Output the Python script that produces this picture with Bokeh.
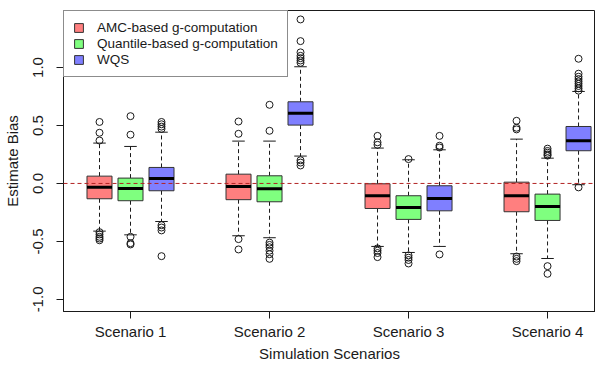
from bokeh.plotting import figure
from bokeh.models import ColumnDataSource, FixedTicker, Span, Legend, LegendItem, PrintfTickFormatter
from bokeh.embed import file_html
from bokeh.resources import INLINE

scenarios = ["Scenario 1", "Scenario 2", "Scenario 3", "Scenario 4"]
methods = ["AMC-based g-computation", "Quantile-based g-computation", "WQS"]
colors = ["#FF7F7F", "#7FFF7F", "#7F7FFF"]

# box statistics per scenario
amc_q1 = [-0.132, -0.140, -0.216, -0.244]
amc_med = [-0.032, -0.026, -0.106, -0.106]
amc_q3 = [0.063, 0.080, -0.003, 0.011]
amc_lo = [-0.411, -0.451, -0.543, -0.606]
amc_hi = [0.348, 0.365, 0.305, 0.382]
amc_out = [[0.53, 0.437, 0.37, -0.42, -0.44, -0.46, -0.475, -0.49],
           [0.534, 0.428, -0.48, -0.569],
           [0.41, 0.355, 0.333, -0.56, -0.58, -0.60, -0.635],
           [0.54, 0.48, 0.466, -0.63, -0.65, -0.67]]

qg_q1 = [-0.149, -0.158, -0.310, -0.319]
qg_med = [-0.043, -0.046, -0.207, -0.198]
qg_q3 = [0.046, 0.066, -0.106, -0.092]
qg_lo = [-0.443, -0.468, -0.595, -0.647]
qg_hi = [0.319, 0.365, 0.204, 0.218]
qg_out = [[0.58, 0.42, -0.46, -0.515, -0.526],
          [0.678, 0.454, -0.51, -0.53, -0.55, -0.58, -0.61, -0.65],
          [0.21, -0.62, -0.64, -0.66, -0.69],
          [0.30, 0.28, 0.265, 0.25, 0.24, -0.713, -0.779]]

wqs_q1 = [-0.063, 0.503, -0.236, 0.282]
wqs_med = [0.043, 0.606, -0.129, 0.368]
wqs_q3 = [0.138, 0.704, -0.020, 0.491]
wqs_lo = [-0.328, 0.236, -0.543, -0.011]
wqs_hi = [0.442, 1.006, 0.290, 0.793]
wqs_out = [[0.53, 0.51, 0.49, 0.47, -0.36, -0.38, -0.405, -0.627],
           [1.414, 1.227, 1.13, 1.10, 1.08, 1.06, 1.04, 0.20, 0.18, 0.155],
           [0.41, 0.325, 0.31, -0.612],
           [1.075, 0.946, 0.92, 0.90, 0.88, 0.86, 0.84, 0.82, 0.80, -0.034]]

y_ticks = [-1.0, -0.5, 0.0, 0.5, 1.0]

stats = [
    (amc_q1, amc_med, amc_q3, amc_lo, amc_hi, amc_out),
    (qg_q1, qg_med, qg_q3, qg_lo, qg_hi, qg_out),
    (wqs_q1, wqs_med, wqs_q3, wqs_lo, wqs_hi, wqs_out),
]
offsets = [-0.223, 0.0, 0.223]
box_w = 0.18
cap_w = 0.09

FONT = "Liberation Sans"
INK = "#1a1a1a"

p = figure(width=595, height=365, output_backend="svg", toolbar_location=None,
           x_range=(0.518, 4.345), y_range=(-1.104, 1.491),
           min_border_left=63, min_border_right=0, min_border_top=10, min_border_bottom=54)
p.grid.visible = False
p.outline_line_color = INK
p.outline_line_width = 1
p.background_fill_color = "white"

legend_items = []
for k, (q1, med, q3, lo, hi, outs) in enumerate(stats):
    xs = [i + 1 + offsets[k] for i in range(len(scenarios))]
    src = ColumnDataSource(dict(
        x=xs, q1=q1, med=med, q3=q3, lo=lo, hi=hi,
        xl=[x - box_w / 2 for x in xs], xr=[x + box_w / 2 for x in xs],
        cl=[x - cap_w / 2 for x in xs], cr=[x + cap_w / 2 for x in xs],
    ))
    # whiskers
    p.segment(x0="x", x1="x", y0="q3", y1="hi", source=src, line_color=INK,
              line_width=1, line_dash="4 3")
    p.segment(x0="x", x1="x", y0="q1", y1="lo", source=src, line_color=INK,
              line_width=1, line_dash="4 3")
    # caps
    p.segment(x0="cl", x1="cr", y0="hi", y1="hi", source=src, line_color=INK, line_width=1)
    p.segment(x0="cl", x1="cr", y0="lo", y1="lo", source=src, line_color=INK, line_width=1)
    # boxes
    r = p.vbar(x="x", width=box_w, top="q3", bottom="q1", source=src,
               fill_color=colors[k], line_color="#333333", line_width=1)
    legend_items.append(LegendItem(label=methods[k], renderers=[r]))
    # median
    p.segment(x0="xl", x1="xr", y0="med", y1="med", source=src,
              line_color="black", line_width=3)
    # outliers
    ox, oy = [], []
    for i, vals in enumerate(outs):
        for v in vals:
            ox.append(i + 1 + offsets[k])
            oy.append(v)
    p.scatter(x=ox, y=oy, marker="circle", size=7, fill_color=None,
              line_color=INK, line_width=1)

p.add_layout(Span(location=0, dimension="width", line_color="#B22222",
                  line_dash="4 3", line_width=1))

legend = Legend(items=legend_items, location="top_left", margin=0, padding=9,
                border_line_color=INK, border_line_width=1,
                background_fill_color="white", background_fill_alpha=1.0,
                label_text_font=FONT, label_text_font_size="13.5px", label_text_color=INK,
                glyph_width=11, glyph_height=11, label_standoff=13,
                label_height=14, spacing=1)
p.add_layout(legend)

# axes
p.xaxis.ticker = FixedTicker(ticks=[1, 2, 3, 4])
p.xaxis.major_label_overrides = {i + 1: s for i, s in enumerate(scenarios)}
p.yaxis.ticker = FixedTicker(ticks=y_ticks)
p.yaxis.formatter = PrintfTickFormatter(format="%.1f")
p.yaxis.major_label_orientation = "vertical"
p.xaxis.axis_label = "Simulation Scenarios"
p.yaxis.axis_label = "Estimate Bias"
for ax in (p.xaxis, p.yaxis):
    ax.axis_line_color = INK
    ax.major_tick_line_color = INK
    ax.major_tick_out = 7
    ax.major_tick_in = 0
    ax.minor_tick_line_color = None
    ax.major_label_text_font = FONT
    ax.major_label_text_font_size = "15px"
    ax.major_label_text_color = INK
    ax.axis_label_text_font = FONT
    ax.axis_label_text_font_size = "15px"
    ax.axis_label_text_font_style = "normal"
    ax.axis_label_text_color = INK
p.xaxis.major_label_standoff = 4
p.xaxis.axis_label_standoff = 2
p.yaxis.major_label_standoff = 13
p.yaxis.axis_label_standoff = 10

open("out.html", "w").write(file_html(p, INLINE))
